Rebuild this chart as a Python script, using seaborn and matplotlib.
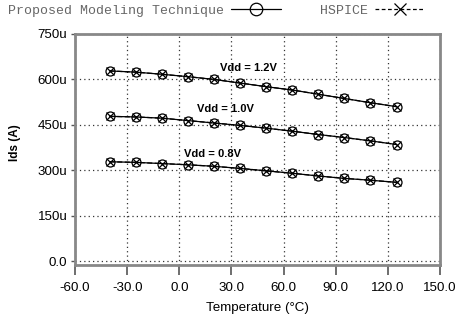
import numpy as np
import pandas as pd
import matplotlib
matplotlib.use("Agg")
import matplotlib.pyplot as plt
from matplotlib.lines import Line2D
import seaborn as sns

temps = [-40, -25, -10, 5, 20, 35, 50, 65, 80, 95, 110, 125]
ids_12 = [628, 624, 617, 609, 600, 588, 576, 565, 551, 537, 523, 510]
ids_10 = [478, 476, 472, 464, 456, 448, 439, 429, 418, 408, 397, 385]
ids_08 = [328, 326, 322, 318, 313, 306, 298, 290, 281, 273, 267, 260]
vdd_labels = ["Vdd = 1.2V", "Vdd = 1.0V", "Vdd = 0.8V"]
label_pos = [(23.4, 638), (10.2, 502), (2.7, 353)]
xticks = [-60, -30, 0, 30, 60, 90, 120, 150]
yticks = [0, 150, 300, 450, 600, 750]
ytick_labels = ["0.0", "150u", "300u", "450u", "600u", "750u"]

rows = []
for lab, vals in zip(vdd_labels, [ids_12, ids_10, ids_08]):
    for t, v in zip(temps, vals):
        rows.append({"Temperature": t, "Ids": v, "Vdd": lab, "Source": "Model"})
        rows.append({"Temperature": t, "Ids": v, "Vdd": lab, "Source": "HSPICE"})
df = pd.DataFrame(rows)

sns.set_theme(style="white")
plt.rcParams["font.family"] = ["Liberation Sans", "DejaVu Sans"]

fig = plt.figure(figsize=(4.57, 3.27), dpi=100)
ax = fig.add_axes([75/457, 1-265/327, 365/457, 231/327])

for lab in vdd_labels:
    d = df[(df.Vdd == lab) & (df.Source == "HSPICE")]
    sns.lineplot(data=d, x="Temperature", y="Ids", ax=ax, color="black",
                 linewidth=0.9, linestyle=(0, (4, 2)), marker="x", markersize=6,
                 markeredgewidth=0.9, markeredgecolor="black", estimator=None,
                 sort=False, legend=False)
    d = df[(df.Vdd == lab) & (df.Source == "Model")]
    sns.lineplot(data=d, x="Temperature", y="Ids", ax=ax, color="black",
                 linewidth=0.9, marker="o", markersize=6.5, markerfacecolor="none",
                 markeredgewidth=0.9, markeredgecolor="black", estimator=None,
                 sort=False, legend=False)

for lab, (x, y) in zip(vdd_labels, label_pos):
    ax.text(x, y, lab, ha="left", va="center", fontsize=8, fontweight="bold", color="black")

ax.set_xlim(-60, 150)
ax.set_ylim(-13, 750)
ax.set_xticks(xticks)
ax.set_xticklabels([f"{t:.1f}" for t in xticks])
ax.set_yticks(yticks)
ax.set_yticklabels(ytick_labels)
ax.grid(True, linestyle=(0, (1, 2.5)), color="#333333", linewidth=0.9)
for s in ax.spines.values():
    s.set_visible(True)
    s.set_color("#888888")
    s.set_linewidth(2.0)
ax.tick_params(axis="x", which="both", direction="out", length=7, width=1.2,
               color="#555555", pad=5, labelsize=9.6, labelcolor="black", bottom=True)
ax.tick_params(axis="y", which="both", direction="out", length=3, width=1.0,
               color="#555555", pad=2.5, labelsize=9.6, labelcolor="black", left=True)
ax.set_xlabel("Temperature (°C)", fontsize=9.6, labelpad=6, color="black")
ax.set_ylabel("Ids (A)", fontsize=8.5, fontweight="bold", color="black")
ax.yaxis.set_label_coords(-0.148, 0.53)

handles = [
    Line2D([], [], color="black", linewidth=0.9, marker="o", markersize=9,
           markerfacecolor="none", markeredgecolor="black", markeredgewidth=0.9),
    Line2D([], [], color="black", linewidth=0.9, linestyle=(0, (3, 2)), marker="x",
           markersize=9, markeredgecolor="black", markeredgewidth=0.9),
]
fig.legend(handles, ["Proposed Modeling Technique", "HSPICE"], loc="center left",
           bbox_to_anchor=(8/457, 1-11/327), ncol=2, frameon=False, markerfirst=False,
           prop={"family": "Liberation Mono", "size": 9.5}, labelcolor="#666666",
           handlelength=3.8, handletextpad=0.5, columnspacing=3.0, borderpad=0,
           borderaxespad=0)

fig.savefig("out.png", dpi=100)
